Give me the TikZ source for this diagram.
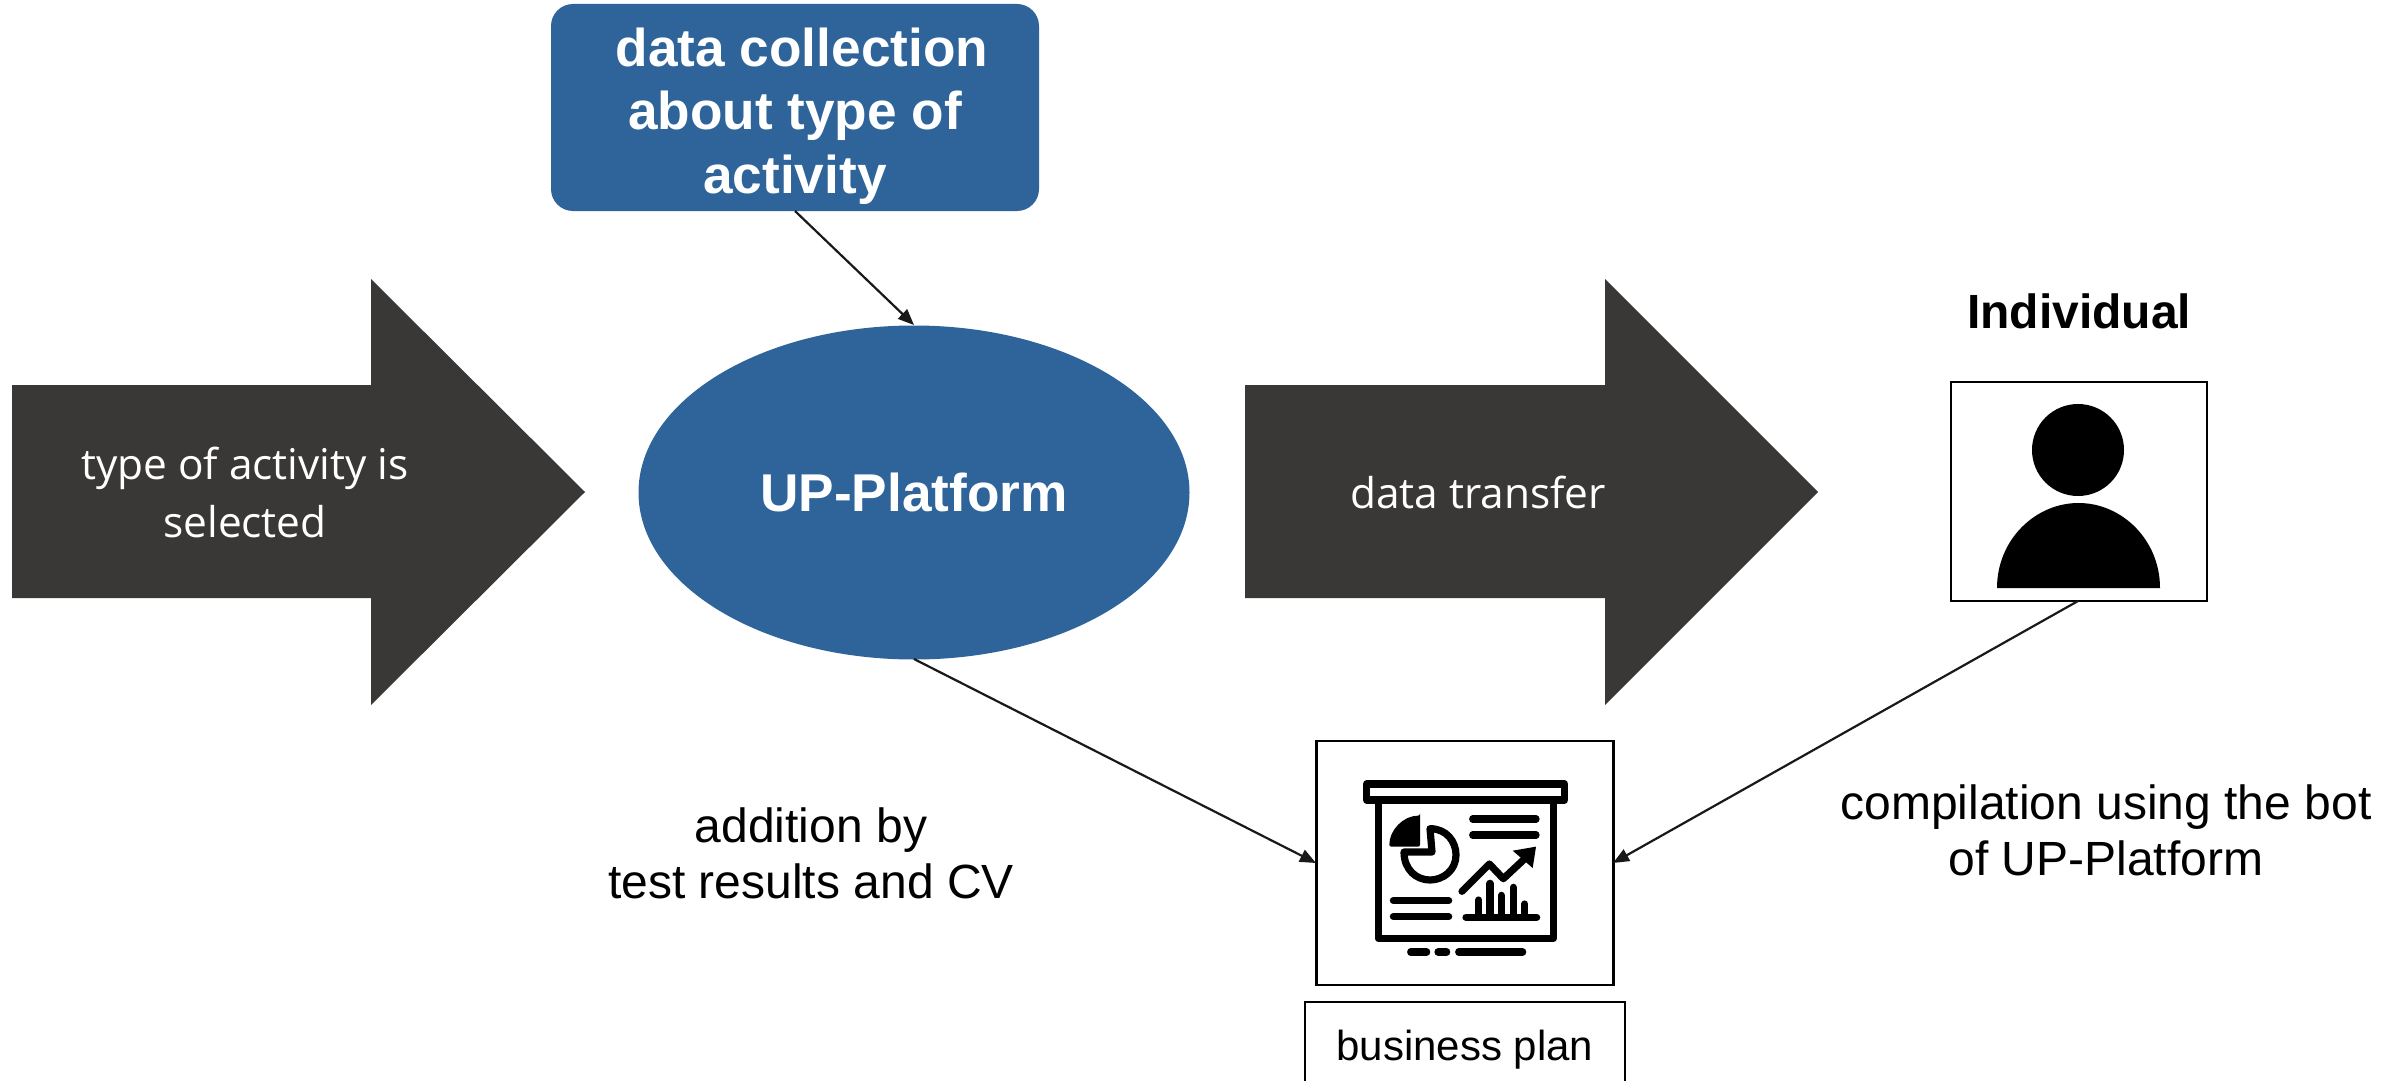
\documentclass[tikz,border=0pt]{standalone}
\usepackage{fontspec}
\setmainfont{Liberation Sans}
\newfontfamily\opensans{Open Sans}
\usetikzlibrary{arrows.meta,shapes.geometric}
\definecolor{upblue}{HTML}{2E6499}
\definecolor{darkarrow}{HTML}{3A3836}
\tikzset{
  x=0.5pt,y=-0.5pt,
  conn/.style={draw=black!90,line width=1.1pt,-{Triangle[length=8pt,width=6.5pt]}},
  framebox/.style={draw=black,line width=1.1pt,fill=white,inner sep=0pt},
  bigarrow/.style={fill=darkarrow,draw=none},
  arrowtext/.style={text=white,font=\opensans\fontsize{21.2}{29}\selectfont,align=center,inner sep=0pt},
  plaintext/.style={text=black,font=\fontsize{24}{28}\selectfont,align=center,inner sep=0pt},
  icon/.style={line width=3.6pt,line cap=round,line join=round,draw=black},
}
\begin{document}
\begin{tikzpicture}
\useasboundingbox (0,0) rectangle (2405,1081);
\fill[white] (0,0) rectangle (2405,1081);
% big arrows
\fill[bigarrow] (12,385) -- (371,385) -- (371,279) -- (585,492) -- (371,705) -- (371,598) -- (12,598) -- cycle;
\fill[bigarrow] (1245,385) -- (1605,385) -- (1605,279) -- (1818,492) -- (1605,705) -- (1605,598) -- (1245,598) -- cycle;
\node[arrowtext] (seltext) at (245,492.5) {type of activity is\\selected};
\node[arrowtext] (transtext) at (1478,492) {data transfer};
% ellipse
\node[ellipse,fill=upblue,inner sep=0pt,minimum width=275.5pt,minimum height=167pt,text=white,font=\bfseries\fontsize{26.6}{30}\selectfont] (plat) at (914,492.5) {\raisebox{-0.7pt}{UP-Platform}};
% data box
\node[rectangle,rounded corners=11pt,fill=upblue,minimum width=244pt,minimum height=103.5pt,inner sep=0pt] (data) at (795,107.5) {};
\node[inner sep=0pt,text=white,align=center,font=\bfseries\fontsize{26.6}{31.7}\selectfont] (datatext) at (795,116) {\hspace*{7pt}data collection\\about type of\\activity};
% individual
\node[font=\bfseries\fontsize{24}{27}\selectfont,inner sep=0pt] (indiv) at (2079,311) {Individual};
\node[framebox,minimum width=128pt,minimum height=109.5pt] (person) at (2079,491.5) {};
\fill[black] (2078,450) circle (46);
\fill[black] (1997,588) .. controls (1997,540) and (2035,503) .. (2078.5,503) .. controls (2122,503) and (2160,540) .. (2160,588) -- cycle;
% business plan
\node[framebox,minimum width=148.5pt,minimum height=122pt] (plan) at (1465,863) {};
\begin{scope}[shift={(1290,720)},x=0.16667pt,y=-0.16667pt]
  \draw[icon] (230,192) rectangle (824,240);
  \draw[icon] (265,240) -- (265,655) -- (790,655) -- (790,240);
  \fill[black,rounded corners=1pt] (390,287) -- (390,380) -- (298,380) .. controls (298,330) and (340,287) .. (390,287) -- cycle;
  \draw[icon] (420,326) .. controls (470,326) and (498,365) .. (498,405) .. controls (498,450) and (460,480) .. (420,480) .. controls (380,480) and (342,450) .. (342,396) -- (426,396) -- cycle;
  \draw[icon] (548,297) -- (738,297);
  \draw[icon] (548,345) -- (738,345);
  \draw[icon] (310,542) -- (476,542);
  \draw[icon] (310,590) -- (476,590);
  \draw[icon] (516,514) -- (598,432) -- (640,476) -- (700,420);
  \fill[black] (668,392) -- (738,380) -- (728,444) -- cycle;
  \draw[icon] (528,592) -- (740,592);
  \draw[icon] (566,540) -- (566,592);
  \draw[icon] (600,490) -- (600,592);
  \draw[icon] (634,526) -- (634,592);
  \draw[icon] (670,502) -- (670,592);
  \draw[icon] (704,552) -- (704,592);
  \draw[icon] (362,696) -- (410,696);
  \draw[icon] (444,696) -- (470,696);
  \draw[icon] (506,696) -- (698,696);
\end{scope}
\path[draw=black,line width=1.1pt,fill=white] (1305,1084) -- (1305,1002) -- (1625,1002) -- (1625,1084);
\node[font=\fontsize{21}{24}\selectfont,inner sep=0pt] (plantext) at (1465,1050) {business plan};
% labels
\node[plaintext] (addtext) at (811,853.5) {addition by\\test results and CV};
\node[plaintext] (comptext) at (2106,830) {compilation using the bot\\of UP-Platform};
% connectors
\coordinate (c1) at (795,211);
\coordinate (c2) at (914,325);
\coordinate (c3) at (914,659);
\coordinate (c4) at (1316,863);
\coordinate (c5) at (2078,601);
\coordinate (c6) at (1613,863);
\draw[conn] (c1) -- (c2);
\draw[conn] (c3) -- (c4);
\draw[conn] (c5) -- (c6);
\end{tikzpicture}
\end{document}
